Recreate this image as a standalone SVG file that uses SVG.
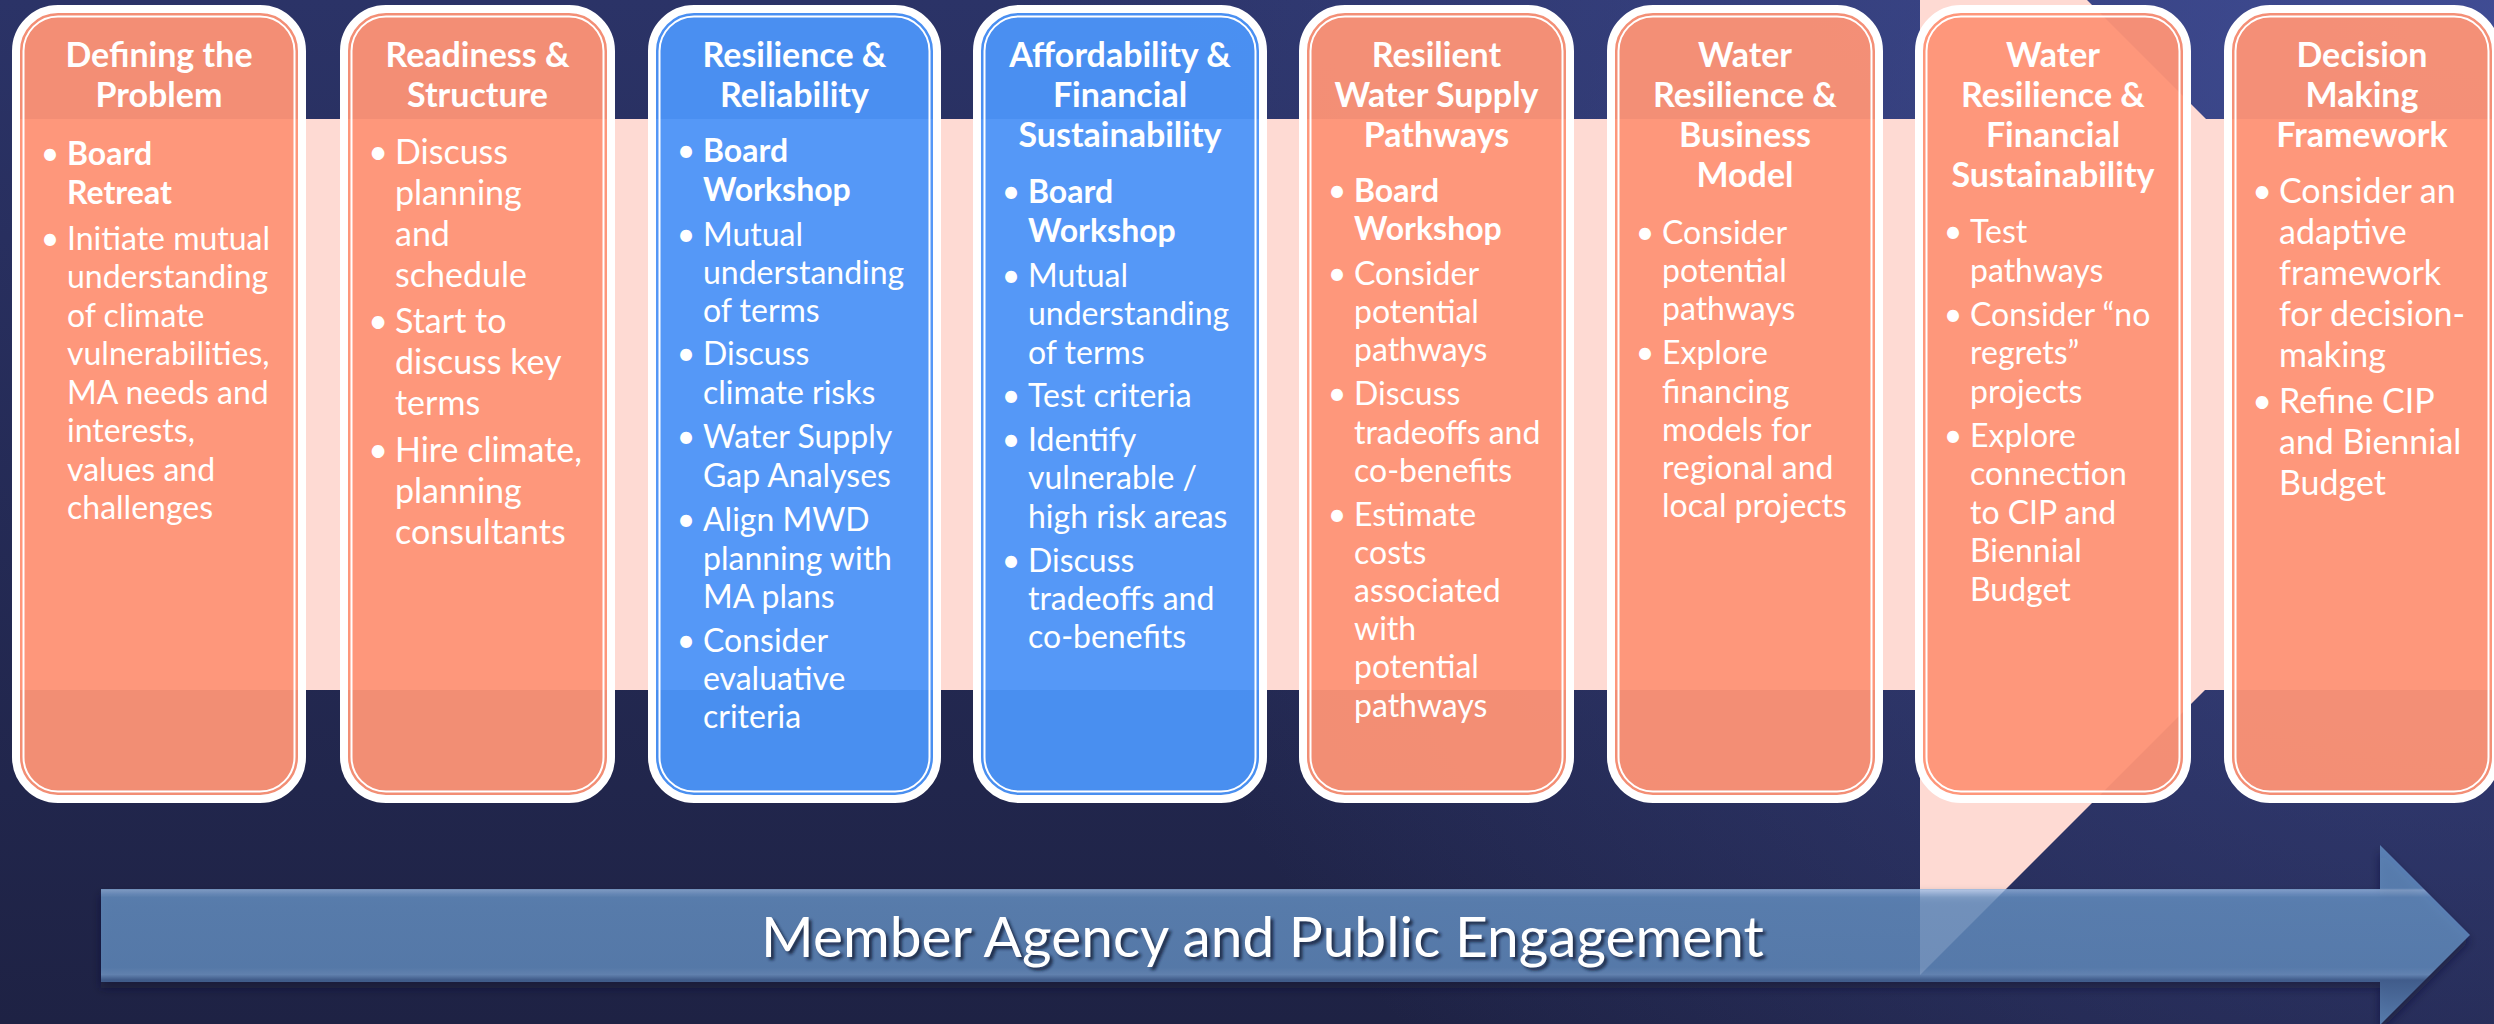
<svg xmlns="http://www.w3.org/2000/svg" width="2494" height="1024" viewBox="0 0 2494 1024">
<defs>
<linearGradient id="bg" x1="0" y1="0" x2="0" y2="1024" gradientUnits="userSpaceOnUse">
<stop offset="0" stop-color="#2b3367"/>
<stop offset="1" stop-color="#1e2244"/>
</linearGradient>
<radialGradient id="glow" cx="2494" cy="0" r="1500" gradientUnits="userSpaceOnUse">
<stop offset="0" stop-color="#4654a2" stop-opacity="0.75"/>
<stop offset="1" stop-color="#4654a2" stop-opacity="0"/>
</radialGradient>
<linearGradient id="arrowFill" x1="0" y1="845" x2="0" y2="1025" gradientUnits="userSpaceOnUse">
<stop offset="0" stop-color="#6a9acf"/>
<stop offset="0.24" stop-color="#6a9acf"/>
<stop offset="0.25" stop-color="#9cc0ea"/>
<stop offset="0.29" stop-color="#6d9dd2"/>
<stop offset="0.68" stop-color="#6a99ce"/>
<stop offset="0.72" stop-color="#7aa4d6"/>
<stop offset="0.75" stop-color="#4d71a4"/>
<stop offset="1" stop-color="#6a9acf"/>
</linearGradient>
<filter id="blur" x="-5%" y="-50%" width="110%" height="200%">
<feGaussianBlur stdDeviation="5"/>
</filter>
<filter id="tshadow" x="-5%" y="-30%" width="110%" height="160%">
<feGaussianBlur stdDeviation="1.5"/>
</filter>
<style>
.salmon{fill:#fe9476;fill-opacity:0.95}
.blue{fill:#4c95f9;fill-opacity:0.95}
.ring{fill:none;stroke:#ffffff;stroke-width:8}
.thin{fill:none;stroke:#ffffff;stroke-width:2}
text{font-family:Lato,"Open Sans","Liberation Sans",sans-serif;fill:#ffffff}
.t{font-size:34px;font-weight:700;text-anchor:middle}
.b{font-size:32px}
.bl{font-size:34px}
.bold{font-weight:700}
.bu{font-size:32px;text-anchor:middle}
.bul{font-size:34px;text-anchor:middle}
</style>
</defs>

<g id="background">
<rect x="0" y="0" width="2494" height="1024" fill="url(#bg)"/>
<rect x="0" y="0" width="2494" height="1024" fill="url(#glow)"/>
<rect x="14" y="119" width="2480" height="571" fill="#fedad3"/>
<polygon points="1920,0 2087,0 2491,404 1920,975" fill="#fedad3"/>
</g>

<g id="card1">
<rect class="salmon" x="18" y="11" width="282" height="786" rx="40"/>
<rect class="ring" x="16" y="9" width="286" height="790" rx="42"/>
<rect class="thin" x="23.5" y="16.5" width="271" height="775" rx="34.5"/>
<text class="t"><tspan x="159" y="67">Defining the</tspan><tspan x="159" y="107">Problem</tspan></text>
<text class="bu"><tspan x="50" y="165">•</tspan><tspan x="50" y="250">•</tspan></text>
<text class="b"><tspan class="bold" x="67" y="165">Board</tspan><tspan class="bold" x="67" y="204">Retreat</tspan><tspan x="67" y="250">Initiate mutual</tspan><tspan x="67" y="288">understanding</tspan><tspan x="67" y="327">of climate</tspan><tspan x="67" y="365">vulnerabilities,</tspan><tspan x="67" y="404">MA needs and</tspan><tspan x="67" y="442">interests,</tspan><tspan x="67" y="481">values and</tspan><tspan x="67" y="519">challenges</tspan></text>
</g>

<g id="card2">
<rect class="salmon" x="346" y="11" width="263" height="786" rx="40"/>
<rect class="ring" x="344" y="9" width="267" height="790" rx="42"/>
<rect class="thin" x="351.5" y="16.5" width="252" height="775" rx="34.5"/>
<text class="t"><tspan x="477.5" y="67">Readiness &amp;</tspan><tspan x="477.5" y="107">Structure</tspan></text>
<text class="bul"><tspan x="378" y="164">•</tspan><tspan x="378" y="333">•</tspan><tspan x="378" y="462">•</tspan></text>
<text class="bl"><tspan x="395" y="164">Discuss</tspan><tspan x="395" y="205">planning</tspan><tspan x="395" y="246">and</tspan><tspan x="395" y="287">schedule</tspan><tspan x="395" y="333">Start to</tspan><tspan x="395" y="374">discuss key</tspan><tspan x="395" y="415">terms</tspan><tspan x="395" y="462">Hire climate,</tspan><tspan x="395" y="503">planning</tspan><tspan x="395" y="544">consultants</tspan></text>
</g>

<g id="card3">
<rect class="blue" x="654" y="11" width="281" height="786" rx="40"/>
<rect class="ring" x="652" y="9" width="285" height="790" rx="42"/>
<rect class="thin" x="659.5" y="16.5" width="270" height="775" rx="34.5"/>
<text class="t"><tspan x="794.5" y="67">Resilience &amp;</tspan><tspan x="794.5" y="107">Reliability</tspan></text>
<text class="bu"><tspan x="686" y="162">•</tspan><tspan x="686" y="246">•</tspan><tspan x="686" y="365">•</tspan><tspan x="686" y="448">•</tspan><tspan x="686" y="531">•</tspan><tspan x="686" y="652">•</tspan></text>
<text class="b"><tspan class="bold" x="703" y="162">Board</tspan><tspan class="bold" x="703" y="201">Workshop</tspan><tspan x="703" y="246">Mutual</tspan><tspan x="703" y="284">understanding</tspan><tspan x="703" y="322">of terms</tspan><tspan x="703" y="365">Discuss</tspan><tspan x="703" y="404">climate risks</tspan><tspan x="703" y="448">Water Supply</tspan><tspan x="703" y="487">Gap Analyses</tspan><tspan x="703" y="531">Align MWD</tspan><tspan x="703" y="570">planning with</tspan><tspan x="703" y="608">MA plans</tspan><tspan x="703" y="652">Consider</tspan><tspan x="703" y="690">evaluative</tspan><tspan x="703" y="728">criteria</tspan></text>
</g>

<g id="card4">
<rect class="blue" x="979" y="11" width="282" height="786" rx="40"/>
<rect class="ring" x="977" y="9" width="286" height="790" rx="42"/>
<rect class="thin" x="984.5" y="16.5" width="271" height="775" rx="34.5"/>
<text class="t"><tspan x="1120" y="67">Affordability &amp;</tspan><tspan x="1120" y="107">Financial</tspan><tspan x="1120" y="147">Sustainability</tspan></text>
<text class="bu"><tspan x="1011" y="203">•</tspan><tspan x="1011" y="287">•</tspan><tspan x="1011" y="407">•</tspan><tspan x="1011" y="451">•</tspan><tspan x="1011" y="572">•</tspan></text>
<text class="b"><tspan class="bold" x="1028" y="203">Board</tspan><tspan class="bold" x="1028" y="242">Workshop</tspan><tspan x="1028" y="287">Mutual</tspan><tspan x="1028" y="325">understanding</tspan><tspan x="1028" y="364">of terms</tspan><tspan x="1028" y="407">Test criteria</tspan><tspan x="1028" y="451">Identify</tspan><tspan x="1028" y="489">vulnerable /</tspan><tspan x="1028" y="528">high risk areas</tspan><tspan x="1028" y="572">Discuss</tspan><tspan x="1028" y="610">tradeoffs and</tspan><tspan x="1028" y="648">co-benefits</tspan></text>
</g>

<g id="card5">
<rect class="salmon" x="1305" y="11" width="263" height="786" rx="40"/>
<rect class="ring" x="1303" y="9" width="267" height="790" rx="42"/>
<rect class="thin" x="1310.5" y="16.5" width="252" height="775" rx="34.5"/>
<text class="t"><tspan x="1436.5" y="67">Resilient</tspan><tspan x="1436.5" y="107">Water Supply</tspan><tspan x="1436.5" y="147">Pathways</tspan></text>
<text class="bu"><tspan x="1337" y="202">•</tspan><tspan x="1337" y="285">•</tspan><tspan x="1337" y="405">•</tspan><tspan x="1337" y="526">•</tspan></text>
<text class="b"><tspan class="bold" x="1354" y="202">Board</tspan><tspan class="bold" x="1354" y="240">Workshop</tspan><tspan x="1354" y="285">Consider</tspan><tspan x="1354" y="323">potential</tspan><tspan x="1354" y="361">pathways</tspan><tspan x="1354" y="405">Discuss</tspan><tspan x="1354" y="444">tradeoffs and</tspan><tspan x="1354" y="482">co-benefits</tspan><tspan x="1354" y="526">Estimate</tspan><tspan x="1354" y="564">costs</tspan><tspan x="1354" y="602">associated</tspan><tspan x="1354" y="640">with</tspan><tspan x="1354" y="678">potential</tspan><tspan x="1354" y="717">pathways</tspan></text>
</g>

<g id="card6">
<rect class="salmon" x="1613" y="11" width="264" height="786" rx="40"/>
<rect class="ring" x="1611" y="9" width="268" height="790" rx="42"/>
<rect class="thin" x="1618.5" y="16.5" width="253" height="775" rx="34.5"/>
<text class="t"><tspan x="1745" y="67">Water</tspan><tspan x="1745" y="107">Resilience &amp;</tspan><tspan x="1745" y="147">Business</tspan><tspan x="1745" y="187">Model</tspan></text>
<text class="bu"><tspan x="1645" y="244">•</tspan><tspan x="1645" y="364">•</tspan></text>
<text class="b"><tspan x="1662" y="244">Consider</tspan><tspan x="1662" y="282">potential</tspan><tspan x="1662" y="320">pathways</tspan><tspan x="1662" y="364">Explore</tspan><tspan x="1662" y="403">financing</tspan><tspan x="1662" y="441">models for</tspan><tspan x="1662" y="479">regional and</tspan><tspan x="1662" y="517">local projects</tspan></text>
</g>

<g id="card7">
<rect class="salmon" x="1921" y="11" width="264" height="786" rx="40"/>
<rect class="ring" x="1919" y="9" width="268" height="790" rx="42"/>
<rect class="thin" x="1926.5" y="16.5" width="253" height="775" rx="34.5"/>
<text class="t"><tspan x="2053" y="67">Water</tspan><tspan x="2053" y="107">Resilience &amp;</tspan><tspan x="2053" y="147">Financial</tspan><tspan x="2053" y="187">Sustainability</tspan></text>
<text class="bu"><tspan x="1953" y="243">•</tspan><tspan x="1953" y="326">•</tspan><tspan x="1953" y="447">•</tspan></text>
<text class="b"><tspan x="1970" y="243">Test</tspan><tspan x="1970" y="282">pathways</tspan><tspan x="1970" y="326">Consider “no</tspan><tspan x="1970" y="364">regrets”</tspan><tspan x="1970" y="403">projects</tspan><tspan x="1970" y="447">Explore</tspan><tspan x="1970" y="485">connection</tspan><tspan x="1970" y="524">to CIP and</tspan><tspan x="1970" y="562">Biennial</tspan><tspan x="1970" y="601">Budget</tspan></text>
</g>

<g id="card8">
<rect class="salmon" x="2230" y="11" width="264" height="786" rx="40"/>
<rect class="ring" x="2228" y="9" width="268" height="790" rx="42"/>
<rect class="thin" x="2235.5" y="16.5" width="253" height="775" rx="34.5"/>
<text class="t"><tspan x="2362" y="67">Decision</tspan><tspan x="2362" y="107">Making</tspan><tspan x="2362" y="147">Framework</tspan></text>
<text class="bul"><tspan x="2262" y="203">•</tspan><tspan x="2262" y="413">•</tspan></text>
<text class="bl"><tspan x="2279" y="203">Consider an</tspan><tspan x="2279" y="244">adaptive</tspan><tspan x="2279" y="285">framework</tspan><tspan x="2279" y="326">for decision-</tspan><tspan x="2279" y="367">making</tspan><tspan x="2279" y="413">Refine CIP</tspan><tspan x="2279" y="454">and Biennial</tspan><tspan x="2279" y="495">Budget</tspan></text>
</g>

<g id="engagement-arrow">
<path d="M101,895 H2380 V851 L2470,941 L2380,1031 V988 H101 Z" fill="#0e1130" fill-opacity="0.55" filter="url(#blur)"/>
<path d="M101,889 H2380 V845 L2470,935 L2380,1025 V982 H101 Z" fill="url(#arrowFill)" fill-opacity="0.74"/>
<text x="764" y="960" font-size="56" textLength="1003" lengthAdjust="spacingAndGlyphs" filter="url(#tshadow)" style="fill:#141835;fill-opacity:0.8">Member Agency and Public Engagement</text>
<text x="761" y="957" font-size="56" textLength="1003" lengthAdjust="spacingAndGlyphs">Member Agency and Public Engagement</text>
</g>
</svg>
